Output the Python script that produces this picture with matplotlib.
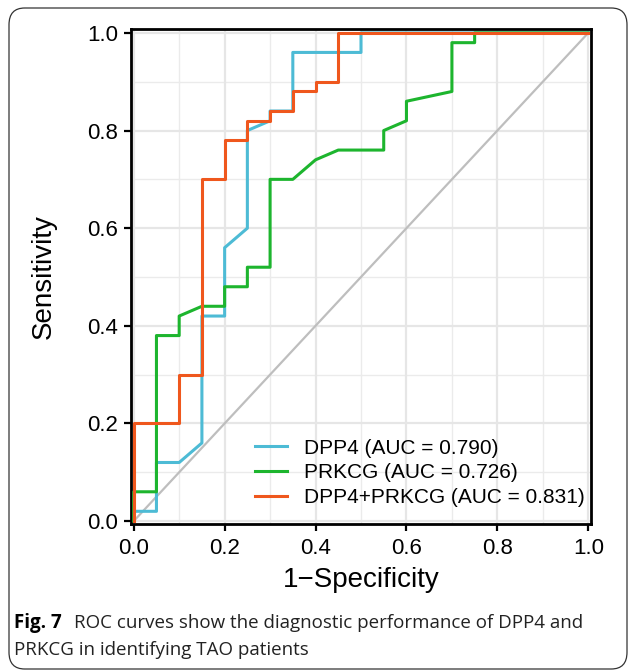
import matplotlib.pyplot as plt
from matplotlib.patches import FancyBboxPatch

# ROC points (1-specificity, sensitivity)
dpp4_fpr = [0, 0, 0.05, 0.05, 0.10, 0.15, 0.15, 0.20, 0.20, 0.25, 0.25, 0.30, 0.30, 0.35, 0.35, 0.50, 0.50, 1.0]
dpp4_tpr = [0, 0.02, 0.02, 0.12, 0.12, 0.16, 0.42, 0.42, 0.56, 0.60, 0.80, 0.82, 0.84, 0.84, 0.96, 0.96, 1.0, 1.0]

prkcg_fpr = [0, 0, 0.05, 0.05, 0.10, 0.10, 0.15, 0.20, 0.20, 0.25, 0.25, 0.30, 0.30, 0.35, 0.40,
             0.45, 0.55, 0.55, 0.60, 0.60, 0.70, 0.70, 0.75, 0.75, 1.0]
prkcg_tpr = [0, 0.06, 0.06, 0.38, 0.38, 0.42, 0.44, 0.44, 0.48, 0.48, 0.52, 0.52, 0.70, 0.70, 0.74,
             0.76, 0.76, 0.80, 0.82, 0.86, 0.88, 0.98, 0.98, 1.0, 1.0]

combo_fpr = [0, 0, 0.10, 0.10, 0.15, 0.15, 0.20, 0.20, 0.25, 0.25, 0.30, 0.30, 0.35, 0.35, 0.40, 0.40, 0.45, 0.45, 1.0]
combo_tpr = [0, 0.20, 0.20, 0.30, 0.30, 0.70, 0.70, 0.78, 0.78, 0.82, 0.82, 0.84, 0.84, 0.88, 0.88, 0.90, 0.90, 1.0, 1.0]

labels = ["DPP4 (AUC = 0.790)", "PRKCG (AUC = 0.726)", "DPP4+PRKCG (AUC = 0.831)"]
colors = ["#4DBBD5", "#1DB52E", "#EF571D"]
ticks = [0.0, 0.2, 0.4, 0.6, 0.8, 1.0]

plt.rcParams['font.family'] = ['Liberation Sans', 'DejaVu Sans']

fig = plt.figure(figsize=(6.29, 6.72), dpi=100)

# rounded caption frame around everything
frame = FancyBboxPatch((9 / 629, 3 / 672), 618 / 629, 661 / 672,
                       boxstyle="round,pad=0,rounding_size=0.025",
                       transform=fig.transFigure, fill=False,
                       edgecolor="#333333", linewidth=0.9)
fig.patches.append(frame)

ax = fig.add_axes([131 / 629, (672 - 524) / 672, 460 / 629, 495 / 672])

# grid (major + minor)
for v in [0.1, 0.3, 0.5, 0.7, 0.9]:
    ax.axvline(v, color="#EBEBEB", lw=1.0, zorder=0)
    ax.axhline(v, color="#EBEBEB", lw=1.0, zorder=0)
for v in ticks:
    ax.axvline(v, color="#E6E6E6", lw=1.6, zorder=0)
    ax.axhline(v, color="#E6E6E6", lw=1.6, zorder=0)

ax.plot([0, 1], [0, 1], color="#BEBEBE", lw=1.6, zorder=1)
ax.plot(dpp4_fpr, dpp4_tpr, color=colors[0], lw=2.2, label=labels[0], zorder=2)
ax.plot(prkcg_fpr, prkcg_tpr, color=colors[1], lw=2.2, label=labels[1], zorder=3)
ax.plot(combo_fpr, combo_tpr, color=colors[2], lw=2.2, label=labels[2], zorder=4)

ax.set_xlim(-0.006, 1.006)
ax.set_ylim(-0.006, 1.008)
ax.set_xticks(ticks)
ax.set_yticks(ticks)
ax.set_xticklabels([f"{t:.1f}" for t in ticks])
ax.set_yticklabels([f"{t:.1f}" for t in ticks])
ax.tick_params(axis="both", direction="out", length=5, width=1.6, labelsize=16,
               colors="black")
ax.tick_params(axis="x", pad=5)
ax.tick_params(axis="y", pad=4)
for s in ax.spines.values():
    s.set_linewidth(2.0)
    s.set_color("black")

ax.set_xlabel("1\u2212Specificity", fontsize=20, labelpad=6)
ax.set_ylabel("Sensitivity", fontsize=20, labelpad=22)

ax.legend(loc="lower left", frameon=False, fontsize=15, handlelength=1.55,
          handletextpad=0.77, labelspacing=0.28, borderpad=0, borderaxespad=0,
          bbox_to_anchor=(0.27, 0.034))

# caption
cap_font = ["Open Sans", "DejaVu Sans"]
fig.text(14 / 629, 1 - 623 / 672, "Fig. 7", fontsize=13.5, fontweight="bold",
         family=cap_font, va="center", ha="left")
fig.text(74 / 629, 1 - 623 / 672,
         "ROC curves show the diagnostic performance of DPP4 and",
         fontsize=13.5, family=cap_font, va="center", ha="left",
         color="#222222")
fig.text(14 / 629, 1 - 650 / 672, "PRKCG in identifying TAO patients",
         fontsize=13.5, family=cap_font, va="center", ha="left",
         color="#222222")

fig.savefig("out.png", dpi=100)
